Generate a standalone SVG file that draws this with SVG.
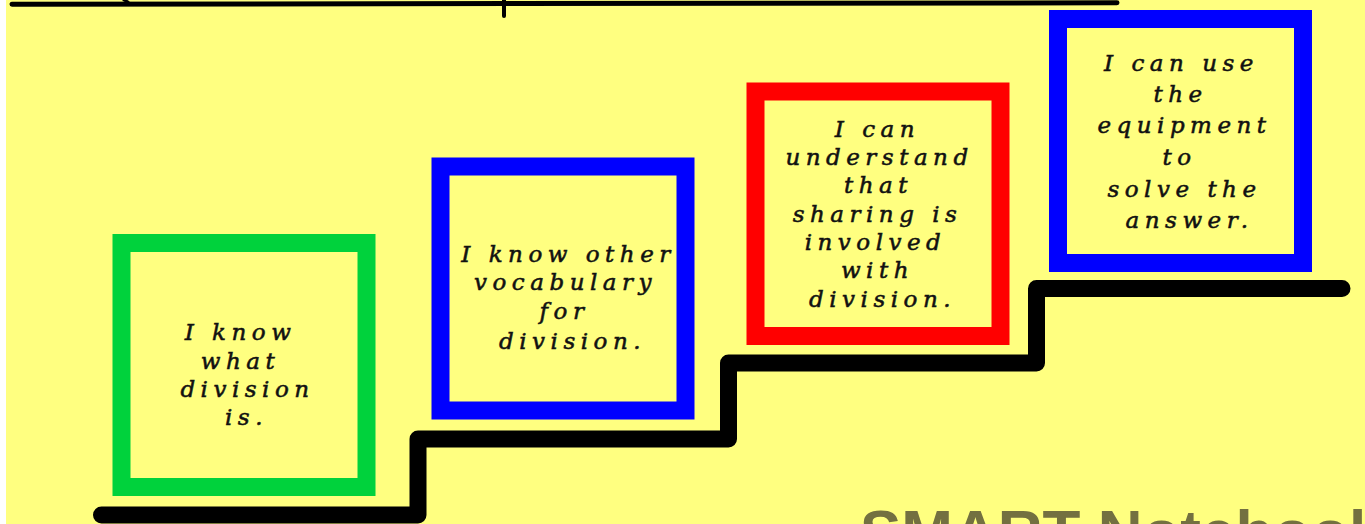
<svg xmlns="http://www.w3.org/2000/svg" width="1365" height="524" viewBox="0 0 1365 524">
<style>
.box{fill:none;stroke-width:18}
.t{font-family:"DejaVu Serif","Liberation Serif",serif;font-style:italic;font-size:23px;letter-spacing:5.5px;fill:#111;stroke:#111;stroke-width:0.55px;text-anchor:middle}
.wm{font-family:"Liberation Sans",Arial,sans-serif;font-weight:bold;font-size:62px;fill:#737040}
</style>
<rect x="0" y="0" width="1365" height="524" fill="#ffffff"/>
<rect x="6" y="0" width="1359" height="524" fill="#ffff80"/>
<g id="title-fragments" stroke="#000" fill="none" stroke-linecap="round">
<line x1="12" y1="4.2" x2="1117" y2="2.8" stroke-width="5"/>
<line x1="504" y1="0" x2="504" y2="16" stroke-width="4"/>
<line x1="124" y1="0" x2="128" y2="2" stroke-width="3"/>
</g>
<g id="connectors">
<path d="M101.5 515 H418 V439 H728.5 V363 H1036.5 V288.5 H1342" fill="none" stroke="#000" stroke-width="17" stroke-linejoin="round" stroke-linecap="round"/>
</g>
<g id="step1">
<rect class="box" x="121.5" y="243" width="245" height="244" stroke="#00d23c"/>
<text class="t" x="240.5" y="340">I know</text>
<text class="t" x="240.5" y="368.5">what</text>
<text class="t" x="247.5" y="397">division</text>
<text class="t" x="246.5" y="425">is.</text>
</g>
<g id="step2">
<rect class="box" x="440.5" y="166.5" width="245" height="244" stroke="#0000ff"/>
<text class="t" x="568.5" y="262">I know other</text>
<text class="t" x="565.5" y="290">vocabulary</text>
<text class="t" x="564.5" y="318.5">for</text>
<text class="t" x="572.5" y="349">division.</text>
</g>
<g id="step3">
<rect class="box" x="755.5" y="91.5" width="245" height="244.5" stroke="#ff0000"/>
<text class="t" x="877.5" y="136.7">I can</text>
<text class="t" x="879.5" y="165">understand</text>
<text class="t" x="878.5" y="193.3">that</text>
<text class="t" x="877.5" y="221.7">sharing is</text>
<text class="t" x="875.5" y="250">involved</text>
<text class="t" x="877.5" y="278.3">with</text>
<text class="t" x="882.5" y="306.7">division.</text>
</g>
<g id="step4">
<rect class="box" x="1058" y="19" width="245" height="244" stroke="#0000ff"/>
<text class="t" x="1181.5" y="70.7">I can use</text>
<text class="t" x="1180.5" y="101.7">the</text>
<text class="t" x="1184.5" y="133.3">equipment</text>
<text class="t" x="1179.5" y="165">to</text>
<text class="t" x="1184.5" y="196.7">solve the</text>
<text class="t" x="1189.5" y="228.3">answer.</text>
</g>
<text class="wm" x="860" y="553">SMART Notebook</text>
</svg>
